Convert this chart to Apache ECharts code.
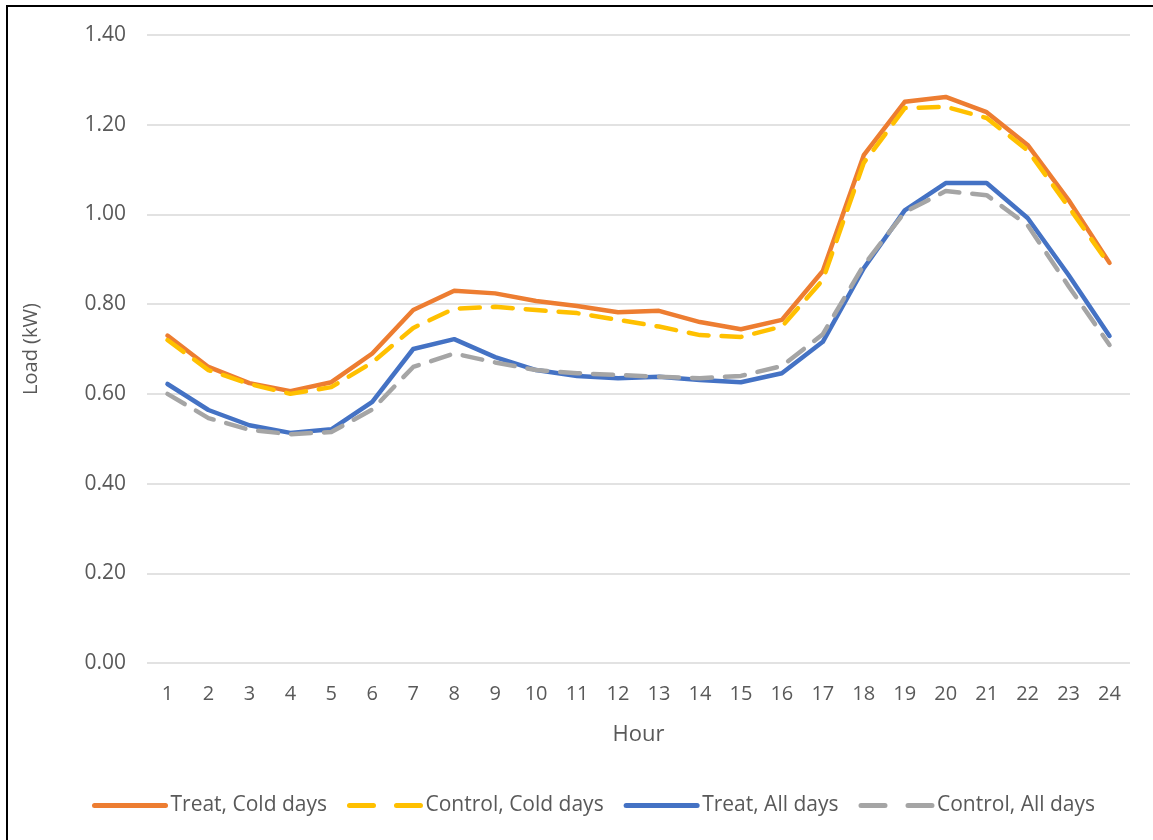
<!DOCTYPE html>
<html>
<head>
    <meta charset="utf-8">
    <title>Load by hour</title>
    <script src="https://cdnjs.cloudflare.com/ajax/libs/echarts/6.0.0/echarts.min.js"></script>
    <style>
        html, body {
            margin: 0;
            padding: 0;
            background: #fff;
        }
        #chart {
            width: 1153px;
            height: 840px;
        }
        .frame {
            position: absolute;
            left: 6px;
            top: 5px;
            width: 1160px;
            height: 850px;
            border-left: 2px solid #000;
            border-top: 2px solid #000;
            pointer-events: none;
        }
    </style>
</head>
<body>
    <div id="chart"></div>
    <div class="frame"></div>
    <script>
        const hours = ['1', '2', '3', '4', '5', '6', '7', '8', '9', '10', '11', '12',
                       '13', '14', '15', '16', '17', '18', '19', '20', '21', '22', '23', '24'];

        const treatCold = [0.73, 0.66, 0.624, 0.606, 0.626, 0.69, 0.787, 0.83, 0.824, 0.807, 0.796, 0.782,
                           0.785, 0.76, 0.744, 0.765, 0.874, 1.132, 1.251, 1.262, 1.228, 1.155, 1.032, 0.892];
        const controlCold = [0.72, 0.653, 0.622, 0.60, 0.615, 0.67, 0.747, 0.79, 0.794, 0.787, 0.78, 0.765,
                             0.75, 0.731, 0.727, 0.75, 0.854, 1.115, 1.237, 1.24, 1.215, 1.143, 1.017, 0.887];
        const treatAll = [0.622, 0.564, 0.53, 0.513, 0.521, 0.582, 0.70, 0.722, 0.682, 0.653, 0.64, 0.635,
                          0.638, 0.631, 0.626, 0.646, 0.716, 0.88, 1.009, 1.07, 1.07, 0.992, 0.865, 0.729];
        const controlAll = [0.60, 0.546, 0.52, 0.51, 0.515, 0.565, 0.66, 0.69, 0.67, 0.653, 0.646, 0.642,
                            0.638, 0.635, 0.64, 0.662, 0.733, 0.887, 1.005, 1.052, 1.043, 0.976, 0.84, 0.709];

        const textColor = '#595959';
        const fontFamily = 'Open Sans, sans-serif';

        function lineSeries(name, data, color, dashed) {
            return {
                name: name,
                type: 'line',
                data: data,
                symbol: 'none',
                showSymbol: false,
                smooth: false,
                lineStyle: {
                    color: color,
                    width: 4.5,
                    type: dashed ? [20, 13] : 'solid',
                    cap: 'round',
                    join: 'round'
                },
                itemStyle: { color: color }
            };
        }

        // legend icons: solid or "dash - gap - dash"
        function legendItem(name, dashed) {
            return {
                name: name,
                lineStyle: { width: 5, type: dashed ? [24, 23] : 'solid', cap: 'round' }
            };
        }

        const chart = echarts.init(document.getElementById('chart'));
        const option = {
            animation: false,
            textStyle: { fontFamily: fontFamily },
            grid: {
                left: 147,
                right: 23,
                top: 35,
                bottom: 177
            },
            legend: {
                bottom: 19,
                left: 87,
                itemWidth: 71,
                itemHeight: 14,
                itemGap: 20,
                itemStyle: { opacity: 0 },
                lineStyle: { width: 5, cap: 'round' },
                textStyle: { color: textColor, fontSize: 21, fontFamily: fontFamily },
                data: [
                    legendItem('Treat, Cold days', false),
                    legendItem('Control, Cold days', true),
                    legendItem('Treat, All days', false),
                    legendItem('Control, All days', true)
                ]
            },
            xAxis: {
                type: 'category',
                data: hours,
                boundaryGap: true,
                name: 'Hour',
                nameLocation: 'middle',
                nameGap: 61,
                nameTextStyle: { color: textColor, fontSize: 22 },
                axisLine: { show: false },
                axisTick: { show: false },
                axisLabel: { color: textColor, fontSize: 20, margin: 21 }
            },
            yAxis: {
                type: 'value',
                min: 0,
                max: 1.4,
                interval: 0.2,
                name: 'Load (kW)',
                nameLocation: 'middle',
                nameGap: 106,
                nameTextStyle: { color: textColor, fontSize: 20 },
                axisLine: { show: false },
                axisTick: { show: false },
                axisLabel: {
                    color: textColor,
                    fontSize: 21,
                    margin: 21,
                    formatter: v => v.toFixed(2)
                },
                splitLine: { lineStyle: { color: '#d9d9d9', width: 1.5 } }
            },
            series: [
                lineSeries('Treat, Cold days', treatCold, '#ED7D31', false),
                lineSeries('Control, Cold days', controlCold, '#FFC000', true),
                lineSeries('Treat, All days', treatAll, '#4472C4', false),
                lineSeries('Control, All days', controlAll, '#A5A5A5', true)
            ]
        };
        chart.setOption(option);
    </script>
</body>
</html>
